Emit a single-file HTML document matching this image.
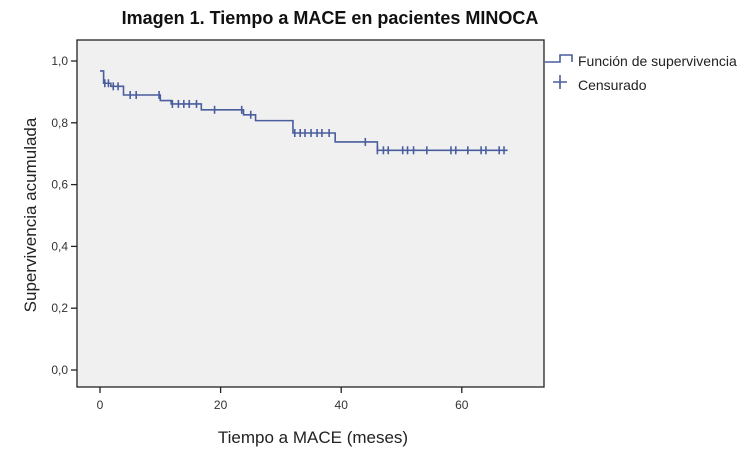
<!DOCTYPE html>
<html><head><meta charset="utf-8"><style>
body{margin:0;background:#fff;width:750px;height:450px;overflow:hidden;font-family:"Liberation Sans",sans-serif}
</style></head><body>
<svg width="750" height="450" xmlns="http://www.w3.org/2000/svg">
<text x="330" y="24" text-anchor="middle" font-size="18" font-weight="bold" fill="#111">Imagen 1. Tiempo a MACE en pacientes MINOCA</text>
<rect x="77" y="40" width="467" height="347" fill="#f0f0f0" stroke="#222" stroke-width="1.3"/>
<g id="axes"></g>
<g id="series"></g>
<text x="313" y="443" text-anchor="middle" font-size="17" fill="#222">Tiempo a MACE (meses)</text>
<text transform="translate(36,215) rotate(-90)" text-anchor="middle" font-size="17" fill="#222">Supervivencia acumulada</text>
<g>
<path d="M545 62 H560 V55 H572 V62" fill="none" stroke="#4a5e9e" stroke-width="1.6"/>
<text x="578" y="66" font-size="14" fill="#222">Función de supervivencia</text>
<path d="M553 82 H567 M560 75 V89" stroke="#4a5e9e" stroke-width="1.6"/>
<text x="578" y="90" font-size="14" fill="#222">Censurado</text>
</g>
</svg>
<script>
const stepTimes=[0,0.6,1.8,3.9,10,11.8,16.8,23.8,25.8,32,39,46,67.6];
const stepSurv=[0.968,0.928,0.918,0.89,0.872,0.861,0.842,0.826,0.807,0.767,0.738,0.711,0.711];
const censorTimes=[0.8,1.4,2.2,3.0,5,6,9.8,12,13,13.9,14.8,16,19,23.5,25,32.3,33.2,34,35,36,36.8,38,44,46,47,47.8,50.2,51,52,54.2,58.2,59,61,63.2,64,66.2,67];
const xTicks=[0,20,40,60];
const yTicks=[0,0.2,0.4,0.6,0.8,1.0];
const X=t=>100+t*6.03;
const Y=s=>370-s*309;
const NS="http://www.w3.org/2000/svg";
function mk(tag,attrs,parent){const e=document.createElementNS(NS,tag);for(const k in attrs)e.setAttribute(k,attrs[k]);parent.appendChild(e);return e;}
const ax=document.getElementById('axes');
xTicks.forEach(v=>{
 const l=mk('line',{x1:X(v),x2:X(v),y1:387,y2:393,stroke:'#222','stroke-width':1.3},ax);
 
 
 const t=mk('text',{x:X(v),y:409,'text-anchor':'middle','font-size':12,fill:'#333'},ax);
 t.textContent=v;
 
 
});
yTicks.forEach(v=>{
 const l=mk('line',{x1:71,x2:77,y1:Y(v),y2:Y(v),stroke:'#222','stroke-width':1.3},ax);
 
 
 const t=mk('text',{x:68,y:Y(v)+4,'text-anchor':'end','font-size':12,fill:'#333'},ax);
 t.textContent=v.toFixed(1).replace('.',',');
 
 
});
const sg=document.getElementById('series');
let d='M'+X(stepTimes[0])+' '+Y(stepSurv[0]);
for(let i=1;i<stepTimes.length;i++){d+=' H'+X(stepTimes[i])+' V'+Y(stepSurv[i]);}
const p=mk('path',{d:d,fill:'none',stroke:'#4a5e9e','stroke-width':1.6},sg);


function survAt(t){let s=stepSurv[0];for(let i=0;i<stepTimes.length;i++){if(stepTimes[i]<=t)s=stepSurv[i];}return s;}
censorTimes.forEach(t=>{
 const x=X(t),y=Y(survAt(t));
 const c=mk('path',{d:`M${x} ${y-4} V${y+4}`,stroke:'#4a5e9e','stroke-width':1.6},sg);
 
 
});
</script>
</body></html>
